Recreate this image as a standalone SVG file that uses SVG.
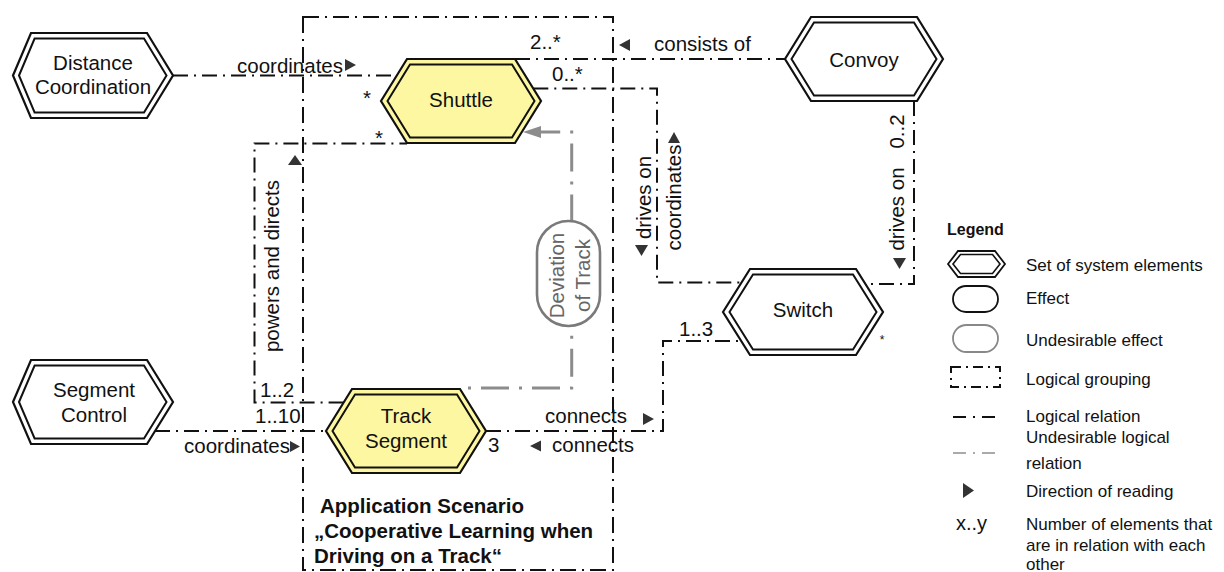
<svg xmlns="http://www.w3.org/2000/svg" width="1224" height="572" viewBox="0 0 1224 572">
  <style>
    text { font-family: "Liberation Sans", Arial, sans-serif; font-size: 20.5px; fill: #111; }
    .bold { font-weight: bold; }
    .mid { text-anchor: middle; }
    .lg { font-size: 17px; }
    .lgh { font-size: 16px; font-weight: bold; }
    .small { font-size: 12px; }
    .rel { fill: none; stroke: #111; stroke-width: 2; stroke-dasharray: 15 6 2 6; }
    .grp { fill: none; stroke: #111; stroke-width: 2; stroke-dasharray: 16 6 2 6; }
    .und { fill: none; stroke: #8c8c8c; stroke-width: 3; stroke-dasharray: 28 10 3 10; }
    .arr { fill: #333; }
    .undarr { fill: #8c8c8c; }
    .hexo { fill: #fff; stroke: #111; stroke-width: 2.2; }
    .hexy { fill: #fdf7a1; stroke: #111; stroke-width: 2.2; }
    .hexi { fill: none; stroke: #111; stroke-width: 2; }
    .eff { fill: #fff; stroke: #111; stroke-width: 1.8; }
    .ueff { fill: #fff; stroke: #7a7a7a; stroke-width: 2.6; }
    .utext { fill: #666; }
  </style>

  <!-- logical grouping: application scenario -->
  <g id="scenario">
    <path class="grp" d="M303,17 H613 V570 H303 Z"/>
    <text class="bold" x="320" y="513">Application Scenario</text>
    <text class="bold" x="314" y="538">„Cooperative Learning when</text>
    <text class="bold" x="314" y="563">Driving on a Track“</text>
  </g>

  <!-- relations -->
  <g id="connectors">
    <!-- Distance Coordination coordinates Shuttle -->
    <path class="rel" d="M173,75.5 H396.8"/>
    <text x="237" y="72.5">coordinates</text>
    <polygon class="arr" points="345,59 356,65 345,71"/>
    <text class="mid" x="367" y="105">*</text>

    <!-- Convoy consists of Shuttle -->
    <path class="rel" d="M515,59 H785"/>
    <text x="530" y="49">2..*</text>
    <text x="654" y="51">consists of</text>
    <polygon class="arr" points="630,39 619,45 630,51"/>

    <!-- Shuttle drives on / coordinates Switch -->
    <path class="rel" d="M533.3,88.5 H657 V282.5 H741.5"/>
    <text x="552" y="81">0..*</text>
    <text class="mid" transform="translate(651,197.5) rotate(-90)">drives on</text>
    <polygon class="arr" points="635,245 648,245 641.5,256"/>
    <text class="mid" transform="translate(681,197.5) rotate(-90)">coordinates</text>
    <polygon class="arr" points="668,143 680,143 674,132"/>

    <!-- Convoy drives on Switch -->
    <path class="rel" d="M914,101 V284 H865.4"/>
    <text class="mid" transform="translate(904,131.5) rotate(-90)">0..2</text>
    <text class="mid" transform="translate(904,209) rotate(-90)">drives on</text>
    <polygon class="arr" points="893,258 906,258 899.5,269"/>

    <!-- Track Segment connects Switch -->
    <path class="rel" d="M486,431 H663 V341 H741.2"/>
    <text x="679" y="336">1..3</text>
    <text class="small mid" x="882" y="344">*</text>
    <text x="545" y="423">connects</text>
    <polygon class="arr" points="643,413 654,419 643,425"/>
    <text x="552" y="452">connects</text>
    <polygon class="arr" points="541,440.5 530,446 541,451.5"/>
    <text x="488" y="452">3</text>

    <!-- Segment Control coordinates Track Segment -->
    <path class="rel" d="M155,431 H326"/>
    <text x="255" y="423">1..10</text>
    <text x="184" y="453">coordinates</text>
    <polygon class="arr" points="290,441 300,446.5 290,452"/>

    <!-- Track Segment powers and directs Shuttle -->
    <path class="rel" d="M343.6,402.5 H254.5 V143.5 H407"/>
    <text x="260" y="397">1..2</text>
    <text class="mid" x="379" y="145">*</text>
    <text class="mid" transform="translate(279,266) rotate(-90)">powers and directs</text>
    <polygon class="arr" points="288,165 302,165 295,155"/>

    <!-- undesirable relations around Deviation of Track -->
    <path class="und" stroke-dashoffset="7.8" d="M540,132 H571.7 V221"/>
    <polygon class="undarr" points="523,132 541,126 541,138"/>
    <path class="und" stroke-dashoffset="38" d="M468,388 H571.7 V326"/>
  </g>

  <!-- system elements -->
  <g id="distance-coordination">
    <polygon class="hexo" points="13,75.5 31,33 147,33 173,75.5 147,118 31,118"/>
    <polygon class="hexi" points="19,75.5 34.6,38.5 144,38.5 166.5,75.5 144,112.5 34.6,112.5"/>
    <text class="mid" x="93" y="69.5">Distance</text>
    <text class="mid" x="93" y="94">Coordination</text>
  </g>

  <g id="segment-control">
    <polygon class="hexo" points="13,402 31,360 147,360 173,402 147,444 31,444"/>
    <polygon class="hexi" points="19,402 34.6,365.5 144,365.5 166.5,402 144,438.5 34.6,438.5"/>
    <text class="mid" x="94" y="397">Segment</text>
    <text class="mid" x="94" y="422">Control</text>
  </g>

  <g id="shuttle">
    <polygon class="hexy" points="381,101 407,59 515,59 541,101 515,143 407,143"/>
    <polygon class="hexi" points="387.5,101 410,64.5 512,64.5 534.5,101 512,137.5 410,137.5"/>
    <text class="mid" x="461" y="107">Shuttle</text>
  </g>

  <g id="convoy">
    <polygon class="hexo" points="785,59 811,17 917,17 943,59 917,101 811,101"/>
    <polygon class="hexi" points="791.5,59 814,22.5 914,22.5 936.5,59 914,95.5 814,95.5"/>
    <text class="mid" x="864" y="66.5">Convoy</text>
  </g>

  <g id="switch">
    <polygon class="hexo" points="723,312 750,269 856,269 883,312 856,355 750,355"/>
    <polygon class="hexi" points="729.5,312 753,274.5 853,274.5 876.5,312 853,349.5 753,349.5"/>
    <text class="mid" x="803" y="317">Switch</text>
  </g>

  <g id="track-segment">
    <polygon class="hexy" points="326,431 352,389 460,389 486,431 460,473 352,473"/>
    <polygon class="hexi" points="332.5,431 355,394.5 457,394.5 479.5,431 457,467.5 355,467.5"/>
    <text class="mid" x="406" y="423">Track</text>
    <text class="mid" x="406" y="448">Segment</text>
  </g>

  <!-- undesirable effect -->
  <g id="deviation-of-track">
    <rect class="ueff" x="537" y="221" width="63" height="105" rx="31.5" ry="31.5"/>
    <text class="mid utext" transform="translate(564,275.5) rotate(-90)">Deviation</text>
    <text class="mid utext" transform="translate(590,275.5) rotate(-90)">of Track</text>
  </g>

  <!-- legend -->
  <g id="legend">
    <text class="lgh" x="947" y="235">Legend</text>

    <polygon fill="#fff" stroke="#111" stroke-width="1.8" points="948,264 958,251 995,251 1005,264 995,277 958,277"/>
    <polygon fill="none" stroke="#111" stroke-width="1.6" points="953,264 960.5,254.5 992.5,254.5 1000,264 992.5,273.5 960.5,273.5"/>
    <text class="lg" x="1026" y="271">Set of system elements</text>

    <rect class="eff" x="953" y="286" width="45" height="26" rx="13" ry="13"/>
    <text class="lg" x="1026" y="304">Effect</text>

    <rect fill="#fff" stroke="#888" stroke-width="1.8" x="953" y="325" width="45" height="27" rx="13.5" ry="13.5"/>
    <text class="lg" x="1026" y="346">Undesirable effect</text>

    <rect fill="none" stroke="#111" stroke-width="2" stroke-dasharray="10 5 2 5" x="951" y="367" width="49" height="20"/>
    <text class="lg" x="1026" y="385">Logical grouping</text>

    <line stroke="#111" stroke-width="2" stroke-dasharray="13 7 2 7" x1="953" y1="417" x2="998" y2="417"/>
    <text class="lg" x="1026" y="422">Logical relation</text>

    <line stroke="#aaa" stroke-width="2" stroke-dasharray="13 7 2 7" x1="953" y1="453" x2="998" y2="453"/>
    <text class="lg" x="1026" y="443">Undesirable logical</text>
    <text class="lg" x="1026" y="469">relation</text>

    <polygon class="arr" points="963,483 974,490.5 963,498"/>
    <text class="lg" x="1026" y="497">Direction of reading</text>

    <text x="956" y="530" style="font-size:20px">x..y</text>
    <text class="lg" x="1026" y="530">Number of elements that</text>
    <text class="lg" x="1026" y="551">are in relation with each</text>
    <text class="lg" x="1026" y="570">other</text>
  </g>
</svg>
